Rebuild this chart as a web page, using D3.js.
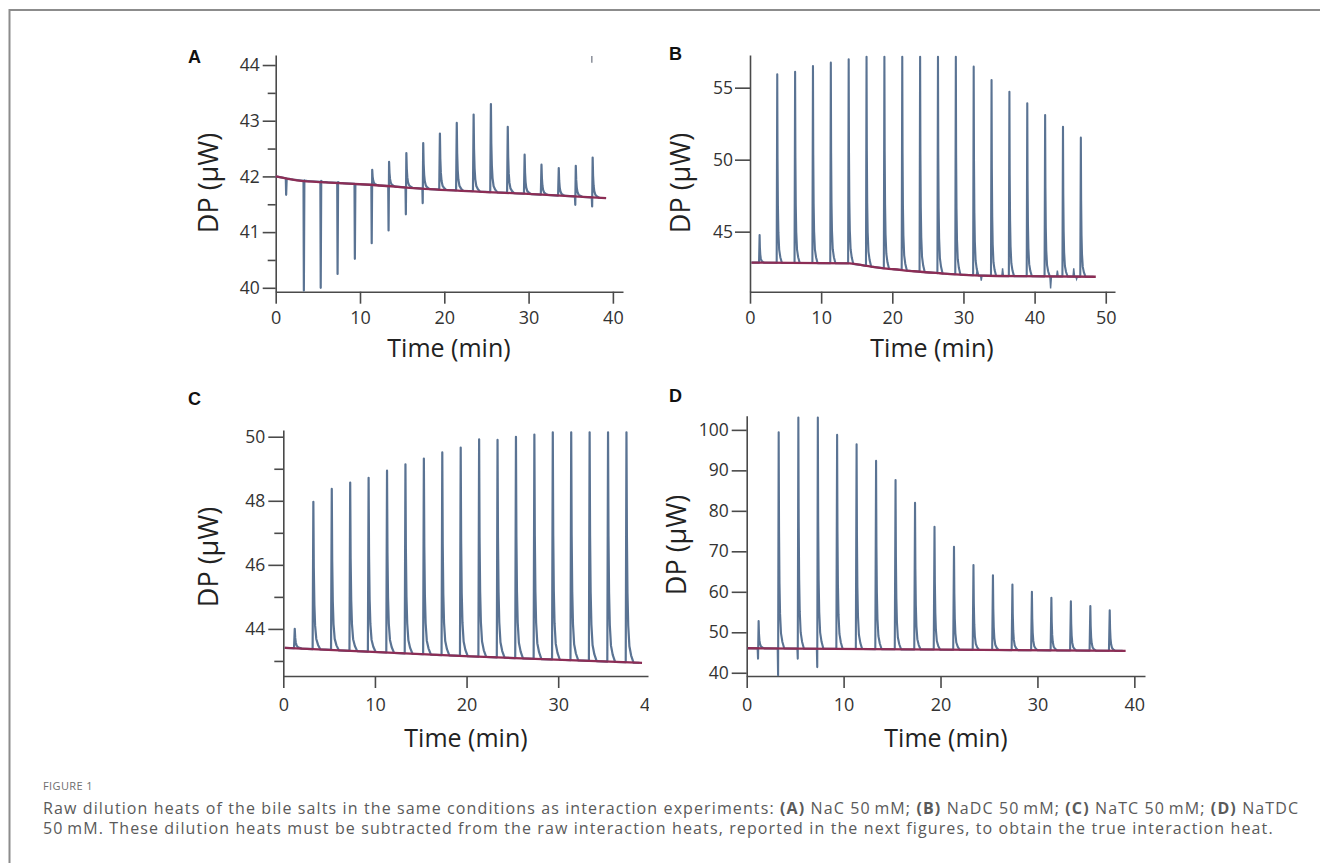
<!DOCTYPE html>
<html><head><meta charset="utf-8">
<script src="https://cdn.jsdelivr.net/npm/d3@7"></script>
<style>body{margin:0;background:#fff}</style>
</head><body>
<svg id="c" width="1320" height="863"></svg>
<script>
// ---------------- DATA ----------------
// Panel A : NaC 50 mM
const injA  = [1.2, 3.3, 5.3, 7.3, 9.35, 11.35, 13.35, 15.4, 17.4, 19.4, 21.4, 23.4, 25.45, 27.45, 29.45, 31.45, 33.5, 35.5, 37.5];
const peakA = [41.95, 41.93, 41.92, 41.9, 41.86, 42.12, 42.26, 42.42, 42.6, 42.77, 42.96, 43.11, 43.3, 42.89, 42.39, 42.21, 42.15, 42.19, 42.34];
const dipA  = [41.67, 39.95, 40.0, 40.25, 40.52, 40.8, 41.03, 41.32, 41.52, null, null, null, null, null, null, null, null, 41.49, 41.46];
const baseTA = [0, 2.5, 6.4, 11.2, 18.3, 29.4, 39.2];
const baseVA = [42.0, 41.93, 41.89, 41.85, 41.77, 41.69, 41.61];
const strayA = [37.5, 44.04, 44.16];
// Panel B : NaDC 50 mM
const injB  = [1.27, 3.75, 6.26, 8.77, 11.28, 13.79, 16.3, 18.81, 21.32, 23.83, 26.34, 28.85, 31.36, 33.87, 36.38, 38.89, 41.4, 43.91, 46.42];
const peakB = [44.77, 55.93, 56.11, 56.5, 56.74, 56.97, 57.15, 57.15, 57.15, 57.15, 57.15, 57.15, 56.46, 55.53, 54.72, 53.92, 53.1, 52.29, 51.53];
const dipB  = [null, null, null, null, null, null, null, null, null, null, null, null, null, null, null, null, null, null, null];
const baseTB = [0.2, 14, 16.4, 18.3, 20.2, 23, 26.7, 30, 34.7, 48.6];
const baseVB = [42.85, 42.8, 42.62, 42.48, 42.39, 42.25, 42.11, 42.0, 41.92, 41.87];
const noiseTB = [31.9, 32.5, 35.5, 42.25, 43.2, 45.5, 45.9];
const noiseVB = [42.25, 41.6, 42.45, 41.05, 42.3, 42.45, 41.7];
// Panel C : NaTC 50 mM
const injC  = [1.17, 3.2, 5.21, 7.22, 9.23, 11.24, 13.25, 15.26, 17.27, 19.28, 21.29, 23.3, 25.31, 27.32, 29.33, 31.34, 33.35, 35.36, 37.37];
const peakC = [44.0, 47.97, 48.37, 48.57, 48.72, 48.94, 49.14, 49.32, 49.51, 49.66, 49.92, 49.9, 50.0, 50.07, 50.14, 50.14, 50.14, 50.14, 50.14];
const dipC  = [null, null, null, null, null, null, null, null, null, null, null, null, null, null, null, null, null, null, null];
const baseTC = [0.15, 19.8, 39.15];
const baseVC = [43.41, 43.15, 42.94];
// Panel D : NaTDC 50 mM
const injD  = [1.13, 3.2, 5.23, 7.24, 9.25, 11.26, 13.27, 15.28, 17.29, 19.3, 21.31, 23.32, 25.33, 27.34, 29.35, 31.36, 33.37, 35.38, 37.38];
const peakD = [52.8, 99.43, 103.05, 103.05, 98.76, 96.46, 92.33, 87.6, 82.0, 76.07, 71.1, 66.6, 64.1, 61.8, 59.98, 58.5, 57.67, 56.5, 55.45];
const dipD  = [43.5, 39.4, 43.5, 41.4, null, null, null, null, null, null, null, null, null, null, null, null, null, null, null];
const baseTD = [0.1, 39.1];
const baseVD = [46.05, 45.4];

// tick values / labels
const yMajorA = [40, 41, 42, 43, 44], yMinorA = [40.5, 41.5, 42.5, 43.5];
const yMajorB = [45, 50, 55], yMinorB = [];
const yMajorC = [44, 46, 48, 50], yMinorC = [43, 45, 47, 49];
const yMajorD = [40, 50, 60, 70, 80, 90, 100], yMinorD = [];
const xTicksA = [0, 10, 20, 30, 40];
const xTicksB = [0, 10, 20, 30, 40, 50];
const xTicksC = [0, 10, 20, 30, 40];
const xTicksD = [0, 10, 20, 30, 40];
const panelLetters = ["A", "B", "C", "D"];
const yTitle = "DP (μW)";
const xTitle = "Time (min)";
const captionHead = "FIGURE 1";
const captionLine1 = [["Raw dilution heats of the bile salts in the same conditions as interaction experiments: ", 0], ["(A)", 1], [" NaC 50\u2009mM; ", 0], ["(B)", 1], [" NaDC 50\u2009mM; ", 0], ["(C)", 1], [" NaTC 50\u2009mM; ", 0], ["(D)", 1], [" NaTDC", 0]];
const captionLine2 = [["50\u2009mM. These dilution heats must be subtracted from the raw interaction heats, reported in the next figures, to obtain the true interaction heat.", 0]];

// decay template of an injection peak (time offset in units of tail, fraction of peak height)
const tailShape = [[0.15, 0.55], [0.35, 0.3], [0.6, 0.16], [1.0, 0.07], [1.6, 0.03], [2.4, 0]];

// ---------------- LAYOUT ----------------
const panels = [
  {L: 0, inj: injA, peaks: peakA, dips: dipA, bt: baseTA, bv: baseVA, yMaj: yMajorA, yMin: yMinorA, xt: xTicksA,
   xr: [275.7, 623], xd: [0, 41.2], yr: [291.7, 55], yd: [39.93, 44.18], tick: 13, mtick: 8, ypad: 3, xpad: 8,
   tail: 0.32, sw: 2.2, letter: [188, 63], ylab: [218, 183], xlab: [449, 357], clip: null},
  {L: 1, inj: injB, peaks: peakB, dips: dipB, bt: baseTB, bv: baseVB, yMaj: yMajorB, yMin: yMinorB, xt: xTicksB,
   xr: [750, 1115], xd: [0, 51.3], yr: [291.7, 55], yd: [40.83, 57.27], tick: 15, mtick: 8, ypad: 2, xpad: 8,
   tail: 0.27, sw: 2.1, letter: [669, 60], ylab: [690, 183], xlab: [932, 357], clip: null},
  {L: 2, inj: injC, peaks: peakC, dips: dipC, bt: baseTC, bv: baseVC, yMaj: yMajorC, yMin: yMinorC, xt: xTicksC,
   xr: [283.3, 648], xd: [0, 39.8], yr: [676, 430], yd: [42.53, 50.21], tick: 15, mtick: 9, ypad: 3, xpad: 10,
   tail: 0.32, sw: 2.2, letter: [188, 405], ylab: [218, 557], xlab: [466, 747], clip: 649},
  {L: 3, inj: injD, peaks: peakD, dips: dipD, bt: baseTD, bv: baseVD, yMaj: yMajorD, yMin: yMinorD, xt: xTicksD,
   xr: [746.7, 1145], xd: [0, 41.1], yr: [676, 415.7], yd: [39.2, 103.5], tick: 15, mtick: 8, ypad: 3, xpad: 10,
   tail: 0.24, sw: 2.1, letter: [669, 402], ylab: [686, 545], xlab: [946, 747], clip: null}
];

const svg = d3.select('#c');
const FONT = "'Open Sans', 'Noto Sans', sans-serif";
const TRACE = "#5a7393", BASE = "#8c2d55", AXIS = "#4a4a4a";

// frame
svg.append('path').attr('d', 'M9.5,863 L9.5,10 L1320,10').attr('fill', 'none').attr('stroke', '#8c8c8c').attr('stroke-width', 2);

function buildTrace(p, baseFn) {
  const pts = [[p.bt[0], baseFn(p.bt[0])]];
  p.inj.forEach((t0, i) => {
    const b = baseFn(t0);
    pts.push([t0, b]);
    let tp = t0 + 0.08;
    if (p.dips[i] != null) { pts.push([t0 + 0.04, p.dips[i]]); tp = t0 + 0.1; }
    const pk = p.peaks[i];
    pts.push([tp, pk]);
    tailShape.forEach(([dt, f]) => {
      const t = tp + dt * p.tail;
      const bb = baseFn(t);
      pts.push([t, bb + (pk - bb) * f]);
    });
  });
  const last = p.bt[p.bt.length - 1];
  const lt = pts[pts.length - 1][0];
  if (last > lt) pts.push([last - 0.3, baseFn(last - 0.3)]);
  return pts;
}

panels.forEach(p => {
  const g = svg.append('g');
  if (p.clip) {
    svg.append('clipPath').attr('id', 'clip' + p.L).append('rect').attr('x', 0).attr('y', 0).attr('width', p.clip).attr('height', 863);
    g.attr('clip-path', 'url(#clip' + p.L + ')');
  }
  const x = d3.scaleLinear().domain(p.xd).range(p.xr);
  const y = d3.scaleLinear().domain(p.yd).range(p.yr);
  const baseFn = d3.scaleLinear().domain(p.bt).range(p.bv).clamp(true);

  // axes
  const ax = g.append('g').attr('transform', `translate(0,${p.yr[0]})`)
    .call(d3.axisBottom(x).tickValues(p.xt).tickSize(12).tickSizeOuter(0).tickPadding(p.xpad).tickFormat(d3.format('d')));
  const ay = g.append('g').attr('transform', `translate(${p.xr[0]},0)`)
    .call(d3.axisLeft(y).tickValues(p.yMaj).tickSize(p.tick).tickSizeOuter(0).tickPadding(p.ypad).tickFormat(d3.format('d')));
  if (p.yMin.length) {
    g.append('g').attr('transform', `translate(${p.xr[0]},0)`)
      .call(d3.axisLeft(y).tickValues(p.yMin).tickSize(p.mtick).tickSizeOuter(0).tickFormat(''))
      .select('.domain').remove();
  }
  g.selectAll('.domain, .tick line').attr('stroke', AXIS).attr('stroke-width', 1.6);
  ax.selectAll('text').attr('font-size', 18).attr('font-family', FONT).attr('fill', '#333');
  ay.selectAll('text').attr('font-size', 17.5).attr('font-family', FONT).attr('fill', '#333');

  // trace
  const line = d3.line().x(d => x(d[0])).y(d => y(d[1]));
  g.append('path').datum(buildTrace(p, baseFn)).attr('d', line)
    .attr('fill', 'none').attr('stroke', TRACE).attr('stroke-width', p.sw).attr('stroke-linejoin', 'round');

  if (p.L === 1) {
    noiseTB.forEach((t, i) => {
      const b = baseFn(t);
      g.append('path').datum([[t - 0.1, b], [t, noiseVB[i]], [t + 0.12, b]]).attr('d', line)
        .attr('fill', 'none').attr('stroke', TRACE).attr('stroke-width', 1.4);
    });
  }
  if (p.L === 0) {
    g.append('path').datum([[strayA[0], strayA[1]], [strayA[0], strayA[2]]]).attr('d', line)
      .attr('stroke', '#8a8f99').attr('stroke-width', 1.5);
  }

  // baseline
  g.append('path').datum(p.bt.map((t, i) => [t, p.bv[i]]))
    .attr('d', line.curve(d3.curveMonotoneX)).attr('fill', 'none').attr('stroke', BASE).attr('stroke-width', 2.3);

  // titles
  svg.append('text').attr('x', p.letter[0]).attr('y', p.letter[1]).text(panelLetters[p.L])
    .attr('font-family', "'Liberation Sans', Arial, sans-serif").attr('font-weight', 700).attr('font-size', 18).attr('fill', '#111');
  svg.append('text').attr('transform', `translate(${p.ylab[0]},${p.ylab[1]}) rotate(-90)`).attr('text-anchor', 'middle')
    .attr('font-family', FONT).attr('font-size', 27).attr('fill', '#222').text(yTitle);
  svg.append('text').attr('x', p.xlab[0]).attr('y', p.xlab[1]).attr('text-anchor', 'middle')
    .attr('font-family', FONT).attr('font-size', 25).attr('fill', '#222').text(xTitle);
});

// caption
const cap = svg.append('g').attr('font-family', FONT);
cap.append('text').attr('x', 43).attr('y', 790).attr('font-size', 11).attr('fill', '#6e6e6e').attr('letter-spacing', 0.4).text(captionHead);
function addLine(parts, yy) {
  const t = cap.append('text').attr('x', 43).attr('y', yy).attr('font-size', 16).attr('fill', '#5a5a5a');
  parts.forEach(([s, b]) => t.append('tspan').attr('font-weight', b ? 700 : 400).text(s));
  return t;
}
const l1 = addLine(captionLine1, 814);
const l2 = addLine(captionLine2, 834);
const bw = l1.node().getBBox().width;
const n1 = captionLine1.map(d => d[0]).join('').length;
const ls = Math.max(-0.5, Math.min(1.5, (1255 - bw) / (n1 - 1)));
l1.attr('letter-spacing', ls); l2.attr('letter-spacing', ls);
</script>
</body></html>
